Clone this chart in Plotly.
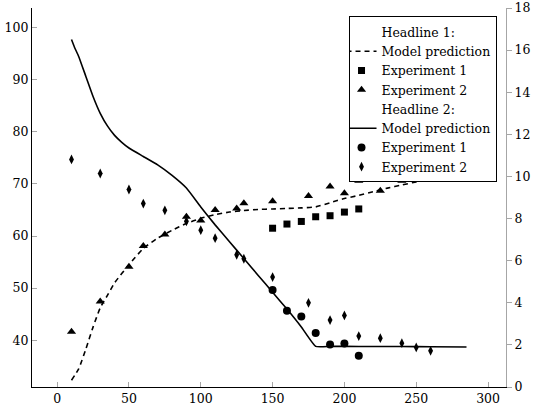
import plotly.graph_objects as go

# ---------------- data ----------------
# Headline 1 (left axis)
h1_model_x = [10, 15, 20, 25, 30, 35, 40, 50, 60, 70, 80, 90, 100, 110, 120, 130, 140,
              150, 160, 170, 180, 190, 200, 210, 220, 230, 240, 250, 260, 270, 280, 285]
h1_model_y = [32.3, 34.5, 38.3, 42.5, 46.2, 48.6, 51.0, 54.5, 57.6, 59.6, 61.1, 62.4, 63.4,
              64.1, 64.6, 64.9, 65.1, 65.2, 65.3, 65.4, 65.6, 66.4, 67.2, 67.8, 68.5, 69.2,
              69.8, 70.4, 70.9, 71.2, 71.5, 71.6]
h1_exp1_x = [150, 160, 170, 180, 190, 200, 210]
h1_exp1_y = [61.5, 62.3, 62.8, 63.7, 63.9, 64.6, 65.2]
h1_exp2_x = [10, 30, 50, 60, 75, 90, 100, 110, 125, 130, 150, 175, 190, 200, 210, 225, 240, 250, 260]
h1_exp2_y = [41.6, 47.4, 54.1, 58.1, 60.3, 63.7, 63.0, 65.0, 65.3, 66.3, 66.7, 67.7, 69.5,
             68.2, 70.6, 68.7, 70.6, 71.5, 71.5]

# Headline 2 (right axis)
h2_model_x = [10, 12, 15, 20, 25, 30, 35, 40, 45, 50, 60, 70, 80, 90, 100, 110, 120, 130,
              140, 150, 160, 170, 180, 190, 200, 220, 240, 260, 285]
h2_model_y = [16.5, 16.15, 15.7, 14.75, 13.8, 13.0, 12.4, 11.95, 11.62, 11.35, 10.95, 10.55,
              10.05, 9.45, 8.55, 7.7, 6.9, 6.1, 5.3, 4.5, 3.7, 2.85, 1.93, 1.93, 1.93, 1.92,
              1.92, 1.91, 1.9]
h2_exp1_x = [150, 160, 170, 180, 190, 200, 210]
h2_exp1_y = [4.61, 3.62, 3.35, 2.57, 2.02, 2.07, 1.48]
h2_exp2_x = [10, 30, 50, 60, 75, 90, 100, 110, 125, 130, 150, 175, 190, 200, 210, 225, 240, 250, 260]
h2_exp2_y = [10.81, 10.14, 9.38, 8.71, 8.39, 7.87, 7.45, 7.07, 6.28, 6.09, 5.22, 4.0, 3.18,
             3.40, 2.42, 2.32, 2.08, 1.88, 1.72]

x_ticks = [0, 50, 100, 150, 200, 250, 300]
y_ticks = [40, 50, 60, 70, 80, 90, 100]
y2_ticks = [0, 2, 4, 6, 8, 10, 12, 14, 16, 18]

# ---------------- figure ----------------
FONT = "DejaVu Serif"
GREY = "#a6a6a6"
fig = go.Figure()

def header(name, yaxis="y"):
    return go.Scatter(x=[None], y=[None], mode="markers", name=name, yaxis=yaxis,
                      marker=dict(color="rgba(0,0,0,0)", size=1))

fig.add_trace(header("Headline 1:"))
fig.add_trace(go.Scatter(x=h1_model_x, y=h1_model_y, mode="lines", name="Model prediction",
                         line=dict(color="black", width=1.6, dash="5px,4px", shape="spline", smoothing=0.6)))
fig.add_trace(go.Scatter(x=h1_exp1_x, y=h1_exp1_y, mode="markers", name="Experiment 1",
                         marker=dict(symbol="square", size=7, color="black")))
fig.add_trace(go.Scatter(x=h1_exp2_x, y=h1_exp2_y, mode="markers", name="Experiment 2",
                         marker=dict(symbol="triangle-up", size=8, color="black")))
fig.add_trace(header("Headline 2:", "y2"))
fig.add_trace(go.Scatter(x=h2_model_x, y=h2_model_y, mode="lines", name="Model prediction",
                         yaxis="y2", line=dict(color="black", width=1.6, shape="spline", smoothing=0.4)))
fig.add_trace(go.Scatter(x=h2_exp1_x, y=h2_exp1_y, mode="markers", name="Experiment 1",
                         yaxis="y2", marker=dict(symbol="circle", size=8, color="black")))
fig.add_trace(go.Scatter(x=h2_exp2_x, y=h2_exp2_y, mode="markers", name="Experiment 2",
                         yaxis="y2", marker=dict(symbol="diamond-tall", size=7, color="black")))

fig.update_layout(
    width=540, height=411,
    margin=dict(l=32.3, r=34, t=8.3, b=24.3, autoexpand=False),
    paper_bgcolor="white", plot_bgcolor="white",
    font=dict(family=FONT, size=12.5, color="black"),
    showlegend=True,
    legend=dict(x=0.98, y=0.978, xanchor="right", yanchor="top",
                bgcolor="white", bordercolor="black", borderwidth=1,
                font=dict(family=FONT, size=12.5), traceorder="normal",
                tracegroupgap=0, indentation=-8),
    xaxis=dict(range=[-17.5, 312.5], tickvals=x_ticks, ticks="inside", ticklen=5,
               tickcolor=GREY, showline=True, linecolor="black", linewidth=1.2,
               showgrid=False, zeroline=False, mirror=False, automargin=False),
    xaxis2=dict(range=[-17.5, 312.5], overlaying="x", side="top", tickvals=x_ticks,
                ticks="inside", ticklen=5, tickcolor=GREY, showticklabels=False,
                showline=True, linecolor=GREY, linewidth=1, showgrid=False,
                zeroline=False, automargin=False),
    yaxis=dict(range=[31.0, 103.8], tickvals=y_ticks, ticks="inside", ticklen=5,
               tickcolor=GREY, showline=True, linecolor="black", linewidth=1.2,
               showgrid=False, zeroline=False, mirror=False, automargin=False),
    yaxis2=dict(range=[0, 18], tickvals=y2_ticks, overlaying="y", side="right",
                ticks="outside", ticklen=5, tickcolor=GREY, showline=True,
                linecolor=GREY, linewidth=1, showgrid=False, zeroline=False,
                automargin=False),
)

fig.write_html("out.html", config={"displayModeBar": False},
               post_script="document.body.style.margin='0';document.body.style.overflow='hidden';")
